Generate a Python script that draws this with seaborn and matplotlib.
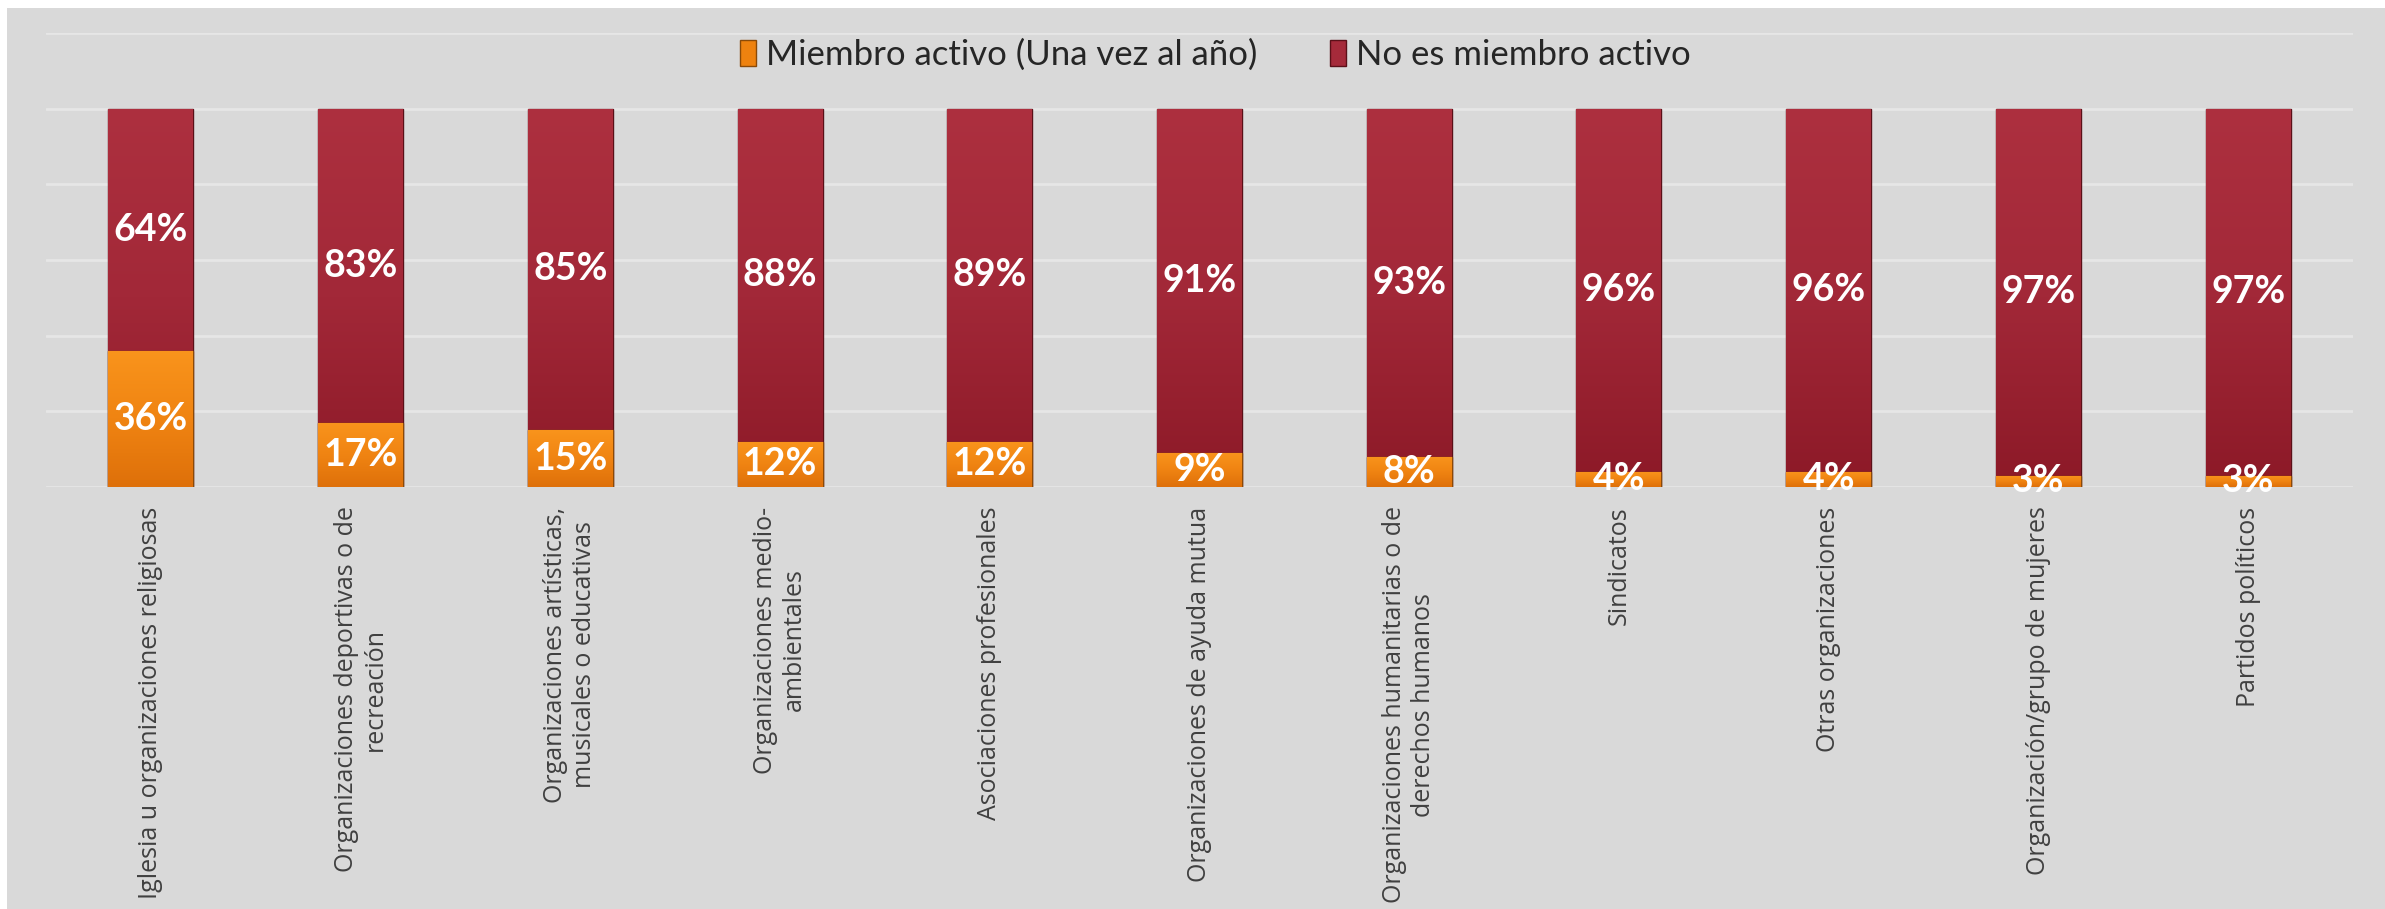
import numpy as np
import pandas as pd
import seaborn as sns
import matplotlib.pyplot as plt
from matplotlib.patches import Rectangle, Patch
from matplotlib.colors import LinearSegmentedColormap

# data (percent)
categories = [
    "Iglesia u organizaciones religiosas",
    "Organizaciones deportivas o de\nrecreación",
    "Organizaciones artísticas,\nmusicales o educativas",
    "Organizaciones medio-\nambientales",
    "Asociaciones profesionales",
    "Organizaciones de ayuda mutua",
    "Organizaciones humanitarias o de\nderechos humanos",
    "Sindicatos",
    "Otras organizaciones",
    "Organización/grupo de mujeres",
    "Partidos políticos",
]
activo = [36, 17, 15, 12, 12, 9, 8, 4, 4, 3, 3]
no_activo = [64, 83, 85, 88, 89, 91, 93, 96, 96, 97, 97]
total = [100] * len(categories)  # 100% stacked

series_names = ["Miembro activo (Una vez al año)", "No es miembro activo"]
orange = "#EE820F"
red = "#9E2433"

df = pd.DataFrame({"cat": categories, "activo": activo,
                   "no_activo": no_activo, "total": total})

sns.set_style("white")
plt.rcParams["font.family"] = ["Open Sans", "DejaVu Sans"]

fig = plt.figure(figsize=(23.85, 9.09), dpi=100, facecolor="white")
# gray chart area (thin white strip top / left like the original)
fig.patches.append(Rectangle((7 / 2385, 0), 1, 1 - 8 / 909, transform=fig.transFigure,
                             facecolor="#D9D9D9", edgecolor="none", zorder=-10))
ax = fig.add_axes([46 / 2385, 1 - 487 / 909, (2353 - 46) / 2385, (487 - 33) / 909])
ax.set_facecolor("none")

sns.barplot(data=df, x="cat", y="total", color=red, width=0.405, saturation=1,
            edgecolor="#5a1018", linewidth=1.0, ax=ax, zorder=3)
sns.barplot(data=df, x="cat", y="activo", color=orange, width=0.405, saturation=1,
            edgecolor="#8a4a08", linewidth=1.0, ax=ax, zorder=4)

# vertical gradient fill inside each bar (bevel look)
red_cm = LinearSegmentedColormap.from_list("r", ["#8C1927", "#A22838", "#AD303F"])
org_cm = LinearSegmentedColormap.from_list("o", ["#DE700A", "#F08412", "#F9941C"])
grad = np.linspace(0, 1, 256).reshape(-1, 1)
n = len(categories)
for i, p in enumerate(ax.patches):
    cm = red_cm if i < n else org_cm
    x0, y0, w, h = p.get_x(), p.get_y(), p.get_width(), p.get_height()
    im = ax.imshow(grad, cmap=cm, origin="lower", aspect="auto",
                   extent=[x0, x0 + w, y0, y0 + h], zorder=p.get_zorder() + 0.1)
    im.set_clip_path(p)

# labels
for i in range(n):
    ax.text(i, activo[i] / 2, f"{activo[i]}%", ha="center", va="center",
            color="white", fontsize=27, fontweight="bold", family="Lato", zorder=10)
    ax.text(i, activo[i] + (total[i] - activo[i]) / 2, f"{no_activo[i]}%",
            ha="center", va="center", color="white", fontsize=27,
            fontweight="bold", family="Lato", zorder=10)

ax.set_ylim(0, 120)
ax.set_xlim(-0.5, n - 0.5)
ax.set_yticks([0, 20, 40, 60, 80, 100, 120])
ax.yaxis.grid(True, color="#E6E6E6", linewidth=2)
ax.set_axisbelow(True)
ax.set_yticklabels([])
ax.tick_params(axis="y", length=0)
ax.tick_params(axis="x", length=0, pad=14, labelsize=18, labelcolor="#404040")
plt.setp(ax.get_xticklabels(), rotation=90, va="top", ha="center", multialignment="center")
ax.set_xlabel("")
ax.set_ylabel("")
for s in ax.spines.values():
    s.set_visible(False)

handles = [Patch(facecolor=orange, edgecolor="#8a4a08"),
           Patch(facecolor="#A52A3A", edgecolor="#5a1018")]
ax.legend(handles, series_names, loc="center", bbox_to_anchor=(0.507, 0.952), ncol=2,
          frameon=False, prop={"family": "Lato", "size": 25}, handlelength=0.45,
          handleheight=0.75, handletextpad=0.3, columnspacing=2.1, labelcolor="#262626")

fig.savefig("out.png", dpi=100, facecolor=fig.get_facecolor())
